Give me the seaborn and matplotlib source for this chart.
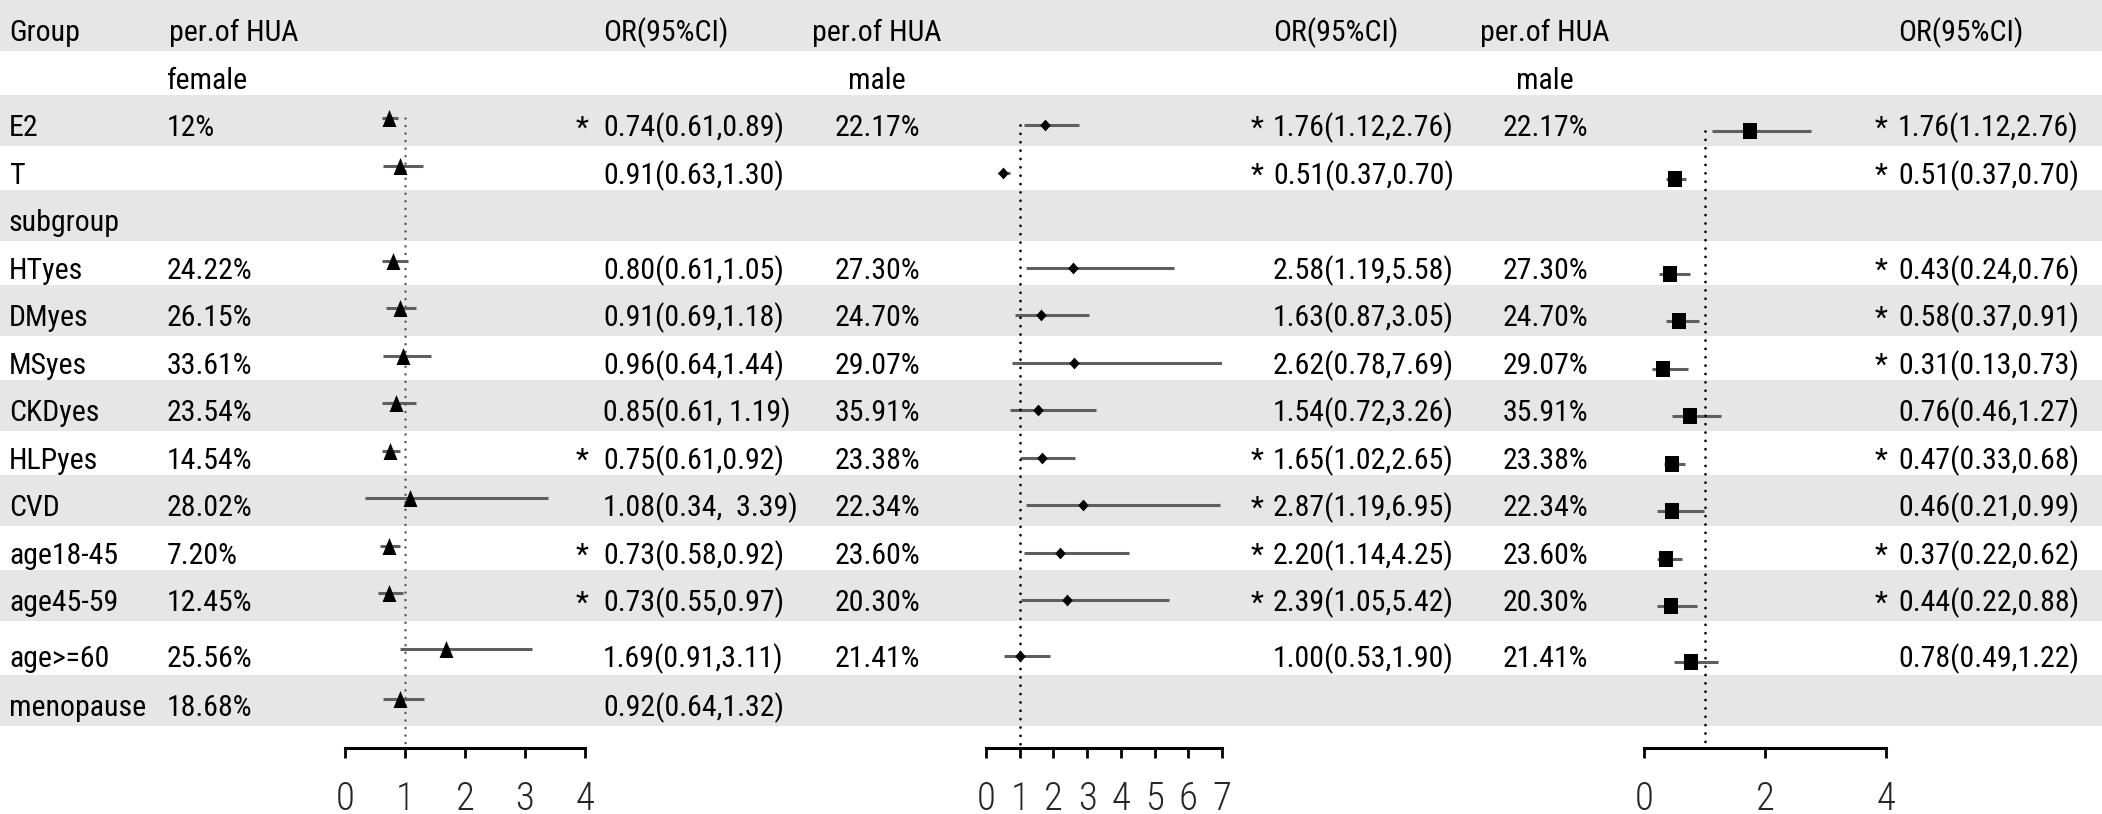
import numpy as np
import seaborn as sns
import matplotlib.pyplot as plt
from matplotlib.patches import Rectangle

# dados
grupos = ['E2', 'T', 'subgroup', 'HTyes', 'DMyes', 'MSyes', 'CKDyes', 'HLPyes',
          'CVD', 'age18-45', 'age45-59', 'age>=60', 'menopause']

# female
per_f = ['12%', '', '', '24.22%', '26.15%', '33.61%', '23.54%', '14.54%',
         '28.02%', '7.20%', '12.45%', '25.56%', '18.68%']
or_f = [0.74, 0.91, np.nan, 0.80, 0.91, 0.96, 0.85, 0.75, 1.08, 0.73, 0.73, 1.69, 0.92]
lo_f = [0.61, 0.63, np.nan, 0.61, 0.69, 0.64, 0.61, 0.61, 0.34, 0.58, 0.55, 0.91, 0.64]
hi_f = [0.89, 1.30, np.nan, 1.05, 1.18, 1.44, 1.19, 0.92, 3.39, 0.92, 0.97, 3.11, 1.32]
txt_f = ['0.74(0.61,0.89)', '0.91(0.63,1.30)', '', '0.80(0.61,1.05)', '0.91(0.69,1.18)',
         '0.96(0.64,1.44)', '0.85(0.61, 1.19)', '0.75(0.61,0.92)', '1.08(0.34,  3.39)',
         '0.73(0.58,0.92)', '0.73(0.55,0.97)', '1.69(0.91,3.11)', '0.92(0.64,1.32)']
sig_f = [1, 0, 0, 0, 0, 0, 0, 1, 0, 1, 1, 0, 0]

# male (meio)
per_m = ['22.17%', '', '', '27.30%', '24.70%', '29.07%', '35.91%', '23.38%',
         '22.34%', '23.60%', '20.30%', '21.41%', '']
or_m1 = [1.76, 0.51, np.nan, 2.58, 1.63, 2.62, 1.54, 1.65, 2.87, 2.20, 2.39, 1.00, np.nan]
lo_m1 = [1.12, 0.37, np.nan, 1.19, 0.87, 0.78, 0.72, 1.02, 1.19, 1.14, 1.05, 0.53, np.nan]
hi_m1 = [2.76, 0.70, np.nan, 5.58, 3.05, 7.69, 3.26, 2.65, 6.95, 4.25, 5.42, 1.90, np.nan]
txt_m1 = ['1.76(1.12,2.76)', '0.51(0.37,0.70)', '', '2.58(1.19,5.58)', '1.63(0.87,3.05)',
          '2.62(0.78,7.69)', '1.54(0.72,3.26)', '1.65(1.02,2.65)', '2.87(1.19,6.95)',
          '2.20(1.14,4.25)', '2.39(1.05,5.42)', '1.00(0.53,1.90)', '']
sig_m1 = [1, 1, 0, 0, 0, 0, 0, 1, 1, 1, 1, 0, 0]

# male (direita)
or_m2 = [1.76, 0.51, np.nan, 0.43, 0.58, 0.31, 0.76, 0.47, 0.46, 0.37, 0.44, 0.78, np.nan]
lo_m2 = [1.12, 0.37, np.nan, 0.24, 0.37, 0.13, 0.46, 0.33, 0.21, 0.22, 0.22, 0.49, np.nan]
hi_m2 = [2.76, 0.70, np.nan, 0.76, 0.91, 0.73, 1.27, 0.68, 0.99, 0.62, 0.88, 1.22, np.nan]
txt_m2 = ['1.76(1.12,2.76)', '0.51(0.37,0.70)', '', '0.43(0.24,0.76)', '0.58(0.37,0.91)',
          '0.31(0.13,0.73)', '0.76(0.46,1.27)', '0.47(0.33,0.68)', '0.46(0.21,0.99)',
          '0.37(0.22,0.62)', '0.44(0.22,0.88)', '0.78(0.49,1.22)', '']
sig_m2 = [1, 1, 0, 1, 1, 1, 0, 1, 0, 1, 1, 0, 0]

sns.set_theme(style='white')
plt.rcParams['font.family'] = ['Roboto Condensed', 'Liberation Sans', 'DejaVu Sans']

W, H = 2102, 814
fig = plt.figure(figsize=(W / 100, H / 100), dpi=100)

# fundo em coordenadas de pixel
bg = fig.add_axes([0, 0, 1, 1])
bg.set_xlim(0, W)
bg.set_ylim(H, 0)
bg.axis('off')

# centros das linhas (cabecalho, sexo, depois os grupos)
centros = [25.3 + 47.5 * i for i in range(13)] + [651, 700.5]
for i, c in enumerate(centros):
    if i % 2 == 0:
        bg.axhspan(c - 25.3, c + 25.3, color='#e6e6e6', lw=0, zorder=0)

fs = 21.5
base = 16  # deslocamento da linha de base


def texto(x, i, s, ha='left'):
    return bg.text(x, centros[i] + base, s, ha=ha, va='baseline', fontsize=fs, color='black')


# cabecalhos
texto(9, 0, 'Group')
texto(169, 0, 'per.of HUA')
texto(603, 0, 'OR(95%CI)')
texto(877, 0, 'per.of HUA', 'center')
texto(1273, 0, 'OR(95%CI)')
texto(1545, 0, 'per.of HUA', 'center')
texto(1898, 0, 'OR(95%CI)')
texto(167, 1, 'female')
texto(877, 1, 'male', 'center')
texto(1545, 1, 'male', 'center')

corte = Rectangle((0, 0), 792, H, transform=bg.transData, visible=False)
bg.add_patch(corte)

for k, g in enumerate(grupos):
    i = k + 2
    texto(9, i, g)
    texto(167, i, per_f[k])
    t = texto(603, i, txt_f[k])
    t.set_clip_path(corte)
    texto(877, i, per_m[k], 'center')
    texto(1273, i, txt_m1[k])
    texto(1545, i, per_m[k], 'center')
    texto(1898, i, txt_m2[k])
    if sig_f[k]:
        texto(582, i, '*', 'center')
    if sig_m1[k]:
        texto(1257, i, '*', 'center')
    if sig_m2[k]:
        texto(1881, i, '*', 'center')

eixo_y = 748
tri = [(0, 1), (-0.82, -1), (0.82, -1)]
losango = [(0, 1), (0.9, 0), (0, -1), (-0.9, 0)]
quadrado = [(-0.83, -1), (0.83, -1), (0.83, 1), (-0.83, 1)]

paineis = [
    # x0, x1 (px), xmax, ticks, OR, lo, hi, marcador, tamanho, deslocamento, linha zero
    (345, 585, 4, [0, 1, 2, 3, 4], or_f, lo_f, hi_f, tri, 150, -2, '#555555', 1.8),
    (986, 1222, 7, list(range(8)), or_m1, lo_m1, hi_m1, losango, 72, 5, 'black', 2.0),
    (1644, 1886, 4, [0, 2, 4], or_m2, lo_m2, hi_m2, quadrado, 140, 11, 'black', 2.0),
]

for x0, x1, xmax, ticks, est, lo, hi, mk, tam, desl, cor0, lw0 in paineis:
    ax = fig.add_axes([x0 / W, (H - eixo_y) / H, (x1 - x0) / W, eixo_y / H])
    ax.set_facecolor('none')
    ax.set_xlim(0, xmax)
    ax.set_ylim(eixo_y, 0)
    ys = np.array(centros[2:]) + desl
    est = np.array(est)
    ok = ~np.isnan(est)
    ax.hlines(ys[ok], np.array(lo)[ok], np.array(hi)[ok], color='#5f5f5f', lw=2.2, zorder=2)
    ax.vlines(1, ys[0], eixo_y, color=cor0, lw=lw0, linestyles=(0, (0.01, 3)),
              capstyle='round', zorder=3)
    sns.scatterplot(x=est[ok], y=ys[ok], marker=mk, s=tam, color='black',
                    linewidth=0, ax=ax, legend=False, zorder=4)
    for lado in ['top', 'left', 'right']:
        ax.spines[lado].set_visible(False)
    ax.spines['bottom'].set_linewidth(2.2)
    ax.spines['bottom'].set_color('black')
    ax.spines['bottom'].set_capstyle('projecting')
    ax.set_xticks(ticks)
    ax.set_xticklabels([str(t) for t in ticks], fontweight='light')
    ax.tick_params(axis='x', direction='out', length=7.5, width=2.0, color='black',
                   pad=16, labelsize=28, bottom=True)
    ax.set_yticks([])
    ax.set_xlabel('')
    ax.set_ylabel('')

plt.savefig('out.png', dpi=100)
